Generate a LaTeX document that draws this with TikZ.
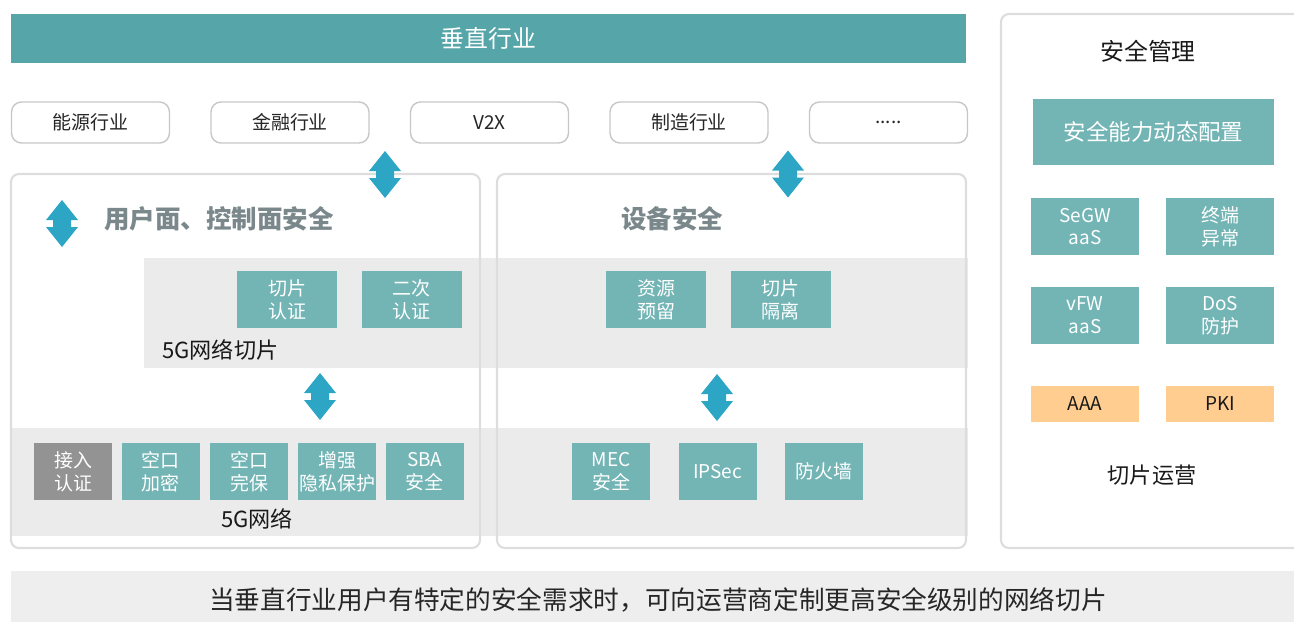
\documentclass[tikz,border=0pt]{standalone}
\usepackage{fontspec}
\setmainfont{Noto Sans CJK SC}
\usetikzlibrary{positioning}

\definecolor{barteal}{HTML}{56A5A8}
\definecolor{boxteal}{HTML}{73B4B5}
\definecolor{arrowblue}{HTML}{2CA6C4}
\definecolor{bandgray}{HTML}{EBEBEB}
\definecolor{linegray}{HTML}{DDDDDD}
\definecolor{titlegray}{HTML}{7A888C}
\definecolor{keygray}{HTML}{939393}
\definecolor{amber}{HTML}{FFCD8F}
\definecolor{notegray}{HTML}{EEEEEE}

\newcommand{\smallcjk}{\fontsize{10.8}{13}\selectfont}

\tikzset{
  x=0.02cm, y=-0.02cm,
  industry/.style={draw=black!22, line width=0.8pt, rounded corners=0.2cm,
    fill=white, minimum width=3.16cm, minimum height=0.82cm, inner sep=0pt,
    font=\smallcjk, text=black!85},
  panel/.style={draw=linegray, line width=1.2pt, rounded corners=0.16cm},
  band/.style={fill=bandgray, draw=none},
  cell/.style={fill=boxteal, text=white, minimum width=1.56cm,
    minimum height=1.14cm, inner sep=0pt, align=center, font=\smallcjk},
  widecell/.style={cell, minimum width=2cm},
  mgmtcell/.style={cell, minimum width=2.16cm},
  keycell/.style={mgmtcell, fill=amber, text=black!90, minimum height=0.72cm},
  heading/.style={font=\fontsize{14.5}{17}\selectfont\bfseries, text=titlegray},
  caption/.style={font=\fontsize{12.6}{15}\selectfont, text=black!90},
  updown/.pic={
    \fill[arrowblue] (0,-23.5) -- (16,-3.5) -- (9,-3.5) -- (9,3.5) -- (16,3.5)
      -- (0,23.5) -- (-16,3.5) -- (-9,3.5) -- (-9,-3.5) -- (-16,-3.5) -- cycle;
  }
}

\begin{document}
\begin{tikzpicture}
  \useasboundingbox (0,0) rectangle (1294,622);

  % top bar and industries
  \node[fill=barteal, text=white, minimum width=19.1cm, minimum height=0.98cm,
    inner sep=0pt, font=\fontsize{13.6}{16}\selectfont] (vertical) at (488.5,38.5) {垂直行业};
  \node[industry] (energy) at (90.5,122.5) {能源行业};
  \node[industry] (finance) at (290,122.5) {金融行业};
  \node[industry] (v2x) at (489.5,122.5) {V2X};
  \node[industry] (manuf) at (689,122.5) {制造行业};
  \node[industry] (more) at (888.5,122.5) {.....};

  % gray bands, then panel frames
  \fill[band] (144,258) rectangle (968,368);
  \fill[band] (11,428) rectangle (968,536);
  \draw[panel] (11,174) rectangle (480,548);
  \draw[panel] (497,174) rectangle (966,548);
  \draw[panel] (1304,548) -- (1001,548) -- (1001,14) -- (1304,14);

  % headings
  \node[heading, anchor=west] (upcp) at (98,219) {用户面、控制面安全};
  \node[heading, anchor=west] (device) at (615,219) {设备安全};

  % slice cells
  \node[widecell] (sliceauth) at (287,299.5) {切片\\认证};
  \node[widecell, right=0.48cm of sliceauth] (secondauth) {二次\\认证};
  \node[widecell] (reserve) at (656,299.5) {资源\\预留};
  \node[widecell, right=0.48cm of reserve] (isolate) {切片\\隔离};
  \node[caption, anchor=west] (slicenet) at (156,350) {5G网络切片};

  % 5G network cells
  \node[cell, fill=keygray] (access) at (73,471.5) {接入\\认证};
  \node[cell, right=0.18cm of access] (aircrypt) {空口\\加密};
  \node[cell, right=0.2cm of aircrypt] (airint) {空口\\完保};
  \node[cell, right=0.18cm of airint] (privacy) {增强\\隐私保护};
  \node[cell, right=0.18cm of privacy] (sba) {SBA\\安全};
  \node[caption] (net) at (257,519) {5G网络};
  \node[cell] (mec) at (611,471.5) {MEC\\安全};
  \node[cell, right=0.56cm of mec] (ipsec) {IPSec};
  \node[cell, right=0.56cm of ipsec] (firewall) {防火墙};

  % block arrows
  \pic (arrtop) at (385,174.5) {updown};
  \pic (arrleft) at (62,223.5) {updown};
  \pic (arrright) at (788,174) {updown};
  \pic (arrmidl) at (320,396.5) {updown};
  \pic (arrmidr) at (717,397.5) {updown};

  % security management
  \node[font=\fontsize{13.6}{16}\selectfont, text=black!90] (mgmt) at (1148,51) {安全管理};
  \node[cell, minimum width=4.82cm, minimum height=1.32cm,
    font=\fontsize{12.8}{15}\selectfont] (dynconf) at (1153.5,132) {安全能力动态配置};
  \node[mgmtcell] (segw) at (1085,226.5) {SeGW\\aaS};
  \node[mgmtcell] (terminal) at (1220,226.5) {终端\\异常};
  \node[mgmtcell] (vfw) at (1085,315.5) {vFW\\aaS};
  \node[mgmtcell] (dos) at (1220,315.5) {DoS\\防护};
  \node[keycell] (aaa) at (1085,404) {AAA};
  \node[keycell] (pki) at (1220,404) {PKI};
  \node[caption] (sliceops) at (1152,475) {切片运营};

  % bottom note
  \fill[notegray] (11,571) rectangle (1294,622);
  \node[font=\fontsize{14.6}{17}\selectfont, text=black!85] (note) at (658,600)
    {当垂直行业用户有特定的安全需求时，可向运营商定制更高安全级别的网络切片};
\end{tikzpicture}
\end{document}
